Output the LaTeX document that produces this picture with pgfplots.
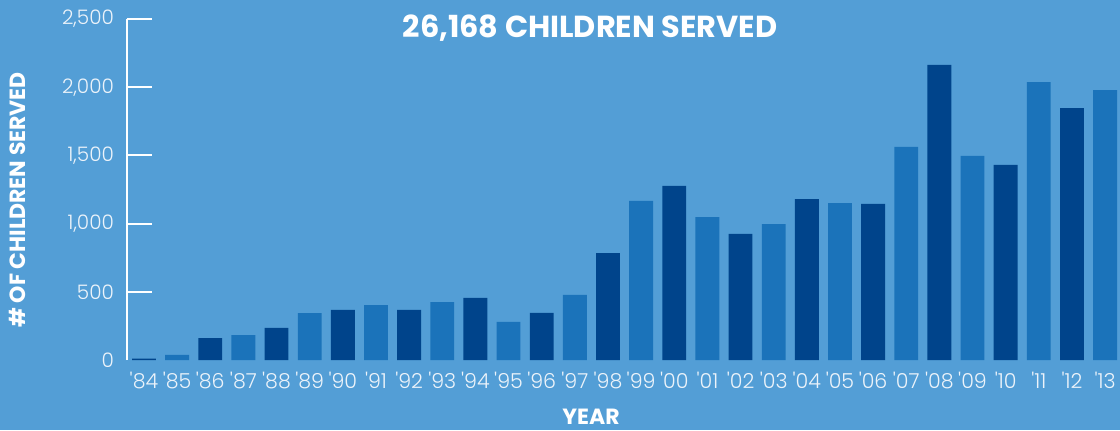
\documentclass[border=0pt]{standalone}
\usepackage{pgfplots}
\pgfplotsset{compat=1.18}
\usepackage{fontspec}
\setmainfont{Poppins}
\newfontfamily\lightfont{Poppins Light}

\definecolor{bgblue}{RGB}{83,158,214}
\definecolor{midblue}{RGB}{27,115,186}
\definecolor{darkblue}{RGB}{0,68,139}
\definecolor{ticktext}{RGB}{236,243,250}

\begin{document}
\begin{tikzpicture}
\path[use as bounding box, fill=bgblue] (0,0) rectangle (560pt,215pt);

\begin{axis}[
    at={(63.5pt,35pt)}, anchor=south west,
    scale only axis,
    width=496.5pt, height=170.5pt,
    xmin=-0.513, xmax=29.45,
    ymin=0, ymax=2500,
    axis y line=left,
    axis x line=bottom,
    x axis line style={draw=none},
    y axis line style={draw=white, line width=1pt, -},
    ybar, bar width=0.72,
    clip=false,
    xtick={0,...,29},
    xticklabels={\textquotesingle84,\textquotesingle85,\textquotesingle86,\textquotesingle87,\textquotesingle88,\textquotesingle89,\textquotesingle90,\textquotesingle91,\textquotesingle92,\textquotesingle93,\textquotesingle94,\textquotesingle95,\textquotesingle96,\textquotesingle97,\textquotesingle98,\textquotesingle99,\textquotesingle00,\textquotesingle01,\textquotesingle02,\textquotesingle03,\textquotesingle04,\textquotesingle05,\textquotesingle06,\textquotesingle07,\textquotesingle08,\textquotesingle09,\textquotesingle10,\textquotesingle11,\textquotesingle12,\textquotesingle13},
    x tick style={draw=none},
    xticklabel style={font=\lightfont\fontsize{10.3}{12}\selectfont, text=ticktext, yshift=-2.5pt},
    ytick={500,1000,...,2500},
    extra y ticks={0},
    extra y tick style={y tick style={draw=none}},
    y tick style={draw=white, line width=1pt},
    tick align=inside,
    major tick length=12.5pt,
    yticklabel style={font=\lightfont\fontsize{10}{12}\selectfont, text=ticktext, xshift=-3pt},
    /pgf/number format/.cd, 1000 sep={,}, assume math mode=true,
]
\addplot[fill=darkblue, draw=none, bar shift=0pt] coordinates {
    (0,10) (2,161) (4,235) (6,367) (8,367) (10,455) (12,345) (14,784)
    (16,1276) (18,924) (20,1180) (22,1144) (24,2163) (26,1430) (28,1847)
};
\addplot[fill=midblue, draw=none, bar shift=0pt] coordinates {
    (1,37) (3,183) (5,344) (7,403) (9,425) (11,279) (13,477) (15,1166)
    (17,1048) (19,997) (21,1151) (23,1562) (25,1496) (27,2038) (29,1979)
};
\end{axis}

\node[text=white, font=\bfseries\fontsize{15.2}{17}\selectfont] at (295pt,201pt) {26,168 CHILDREN SERVED};
\node[text=white, font=\bfseries\fontsize{11}{13}\selectfont, rotate=90] at (8.5pt,115pt) {\# OF CHILDREN SERVED};
\node[text=white, font=\bfseries\fontsize{11}{13}\selectfont] at (295.5pt,6.5pt) {YEAR};
\end{tikzpicture}
\end{document}
